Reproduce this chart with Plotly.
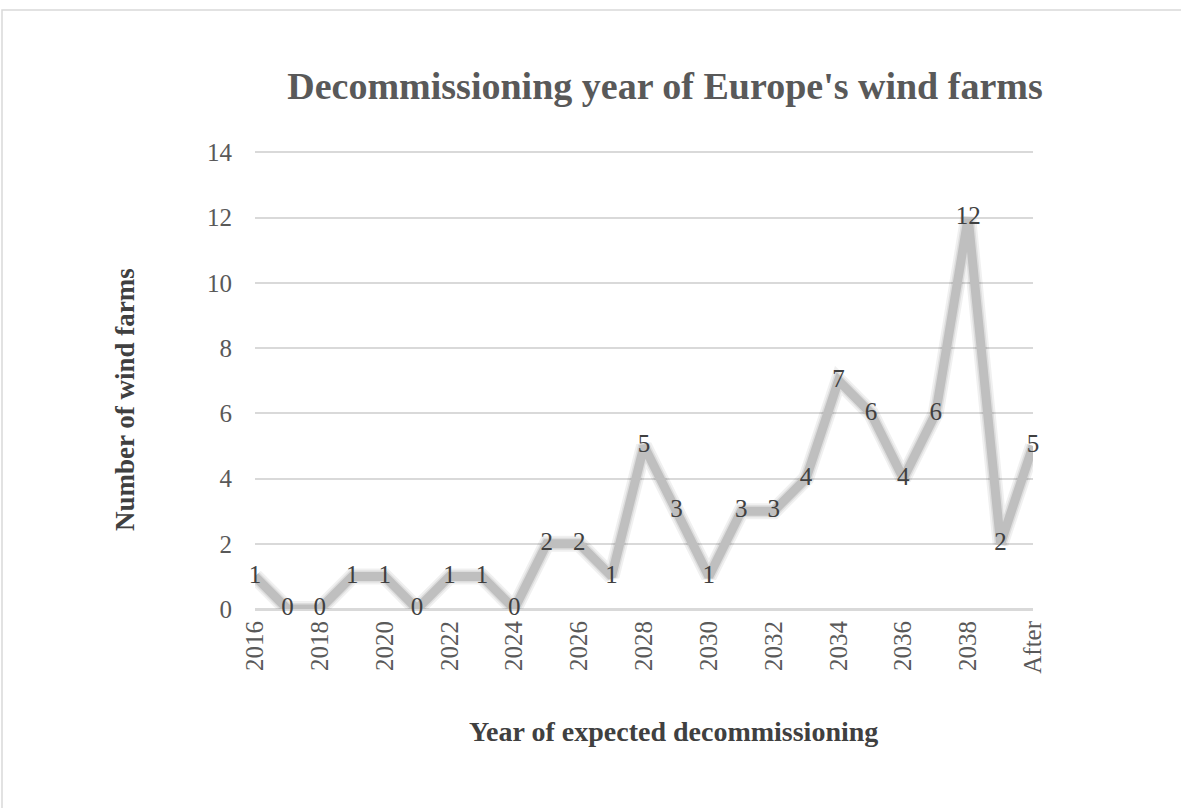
import plotly.graph_objects as go

categories = [str(y) for y in range(2016, 2040)] + ["After"]
values = [1, 0, 0, 1, 1, 0, 1, 1, 0, 2, 2, 1, 5, 3, 1, 3, 3, 4, 7, 6, 4, 6, 12, 2, 5]
tick_labels = ["2016", "2018", "2020", "2022", "2024", "2026", "2028", "2030",
               "2032", "2034", "2036", "2038", "After"]
y_ticks = [0, 2, 4, 6, 8, 10, 12, 14]

W, H = 1181, 808
L, R, T, B = 255, 148, 149, 199
pw, ph = W - L - R, H - T - B

FONT = "Liberation Serif"

fig = go.Figure()
# soft shadow under the line
fig.add_trace(go.Scatter(x=categories, y=values, mode="lines",
                         line=dict(color="rgba(0,0,0,0.06)", width=16),
                         hoverinfo="skip", showlegend=False, cliponaxis=False))
fig.add_trace(go.Scatter(x=categories, y=values, mode="lines",
                         line=dict(color="rgba(0,0,0,0.08)", width=12),
                         hoverinfo="skip", showlegend=False, cliponaxis=False))
fig.add_trace(go.Scatter(x=categories, y=values, mode="lines+text",
                         line=dict(color="#BFBFBF", width=9),
                         text=[str(v) for v in values],
                         textposition="middle center",
                         textfont=dict(family=FONT, size=25, color="#404040"),
                         showlegend=False, cliponaxis=False))

fig.update_layout(
    width=W, height=H,
    margin=dict(l=L, r=R, t=T, b=B, autoexpand=False),
    paper_bgcolor="white", plot_bgcolor="white",
    font=dict(family=FONT, color="#595959"),
    title=dict(text="<b>Decommissioning year of Europe's wind farms</b>",
               font=dict(family=FONT, size=38, color="#595959"),
               x=(665 - L) / pw, xref="paper", xanchor="center",
               y=1 - 86 / H, yref="container", yanchor="middle"),
    xaxis=dict(type="category", categoryorder="array", categoryarray=categories,
               range=[0, len(categories) - 1],
               tickmode="array", tickvals=tick_labels, ticktext=tick_labels,
               tickangle=-90, tickfont=dict(family=FONT, size=25, color="#595959"),
               showgrid=False, showline=False, ticks="", ticklabelstandoff=6,
               zeroline=False),
    yaxis=dict(range=[0, 14.1], tickvals=y_ticks, showgrid=True,
               gridcolor="#D9D9D9", gridwidth=1.5, zeroline=True,
               zerolinecolor="#D9D9D9", zerolinewidth=3,
               tickfont=dict(family=FONT, size=25, color="#595959"),
               ticks="", ticklabelstandoff=22, showline=False),
    annotations=[
        dict(text="<b>Year of expected decommissioning</b>", xref="paper", yref="paper",
             x=(673 - L) / pw, y=-(731 - (T + ph)) / ph, xanchor="center", yanchor="middle",
             showarrow=False, font=dict(family=FONT, size=28, color="#404040")),
        dict(text="<b>Number of wind farms</b>", xref="paper", yref="paper",
             x=(125 - L) / pw, y=1 - (400 - T) / ph, xanchor="center", yanchor="middle",
             textangle=-90, showarrow=False, font=dict(family=FONT, size=27, color="#404040")),
    ],
    shapes=[dict(type="rect", xref="paper", yref="paper",
                 x0=(2 - L) / pw, x1=(1190 - L) / pw,
                 y0=-(820 - (T + ph)) / ph, y1=1 + (T - 10) / ph,
                 line=dict(color="#D9D9D9", width=1.5), fillcolor="rgba(0,0,0,0)",
                 layer="below")],
)

fig.write_html("out.html")
